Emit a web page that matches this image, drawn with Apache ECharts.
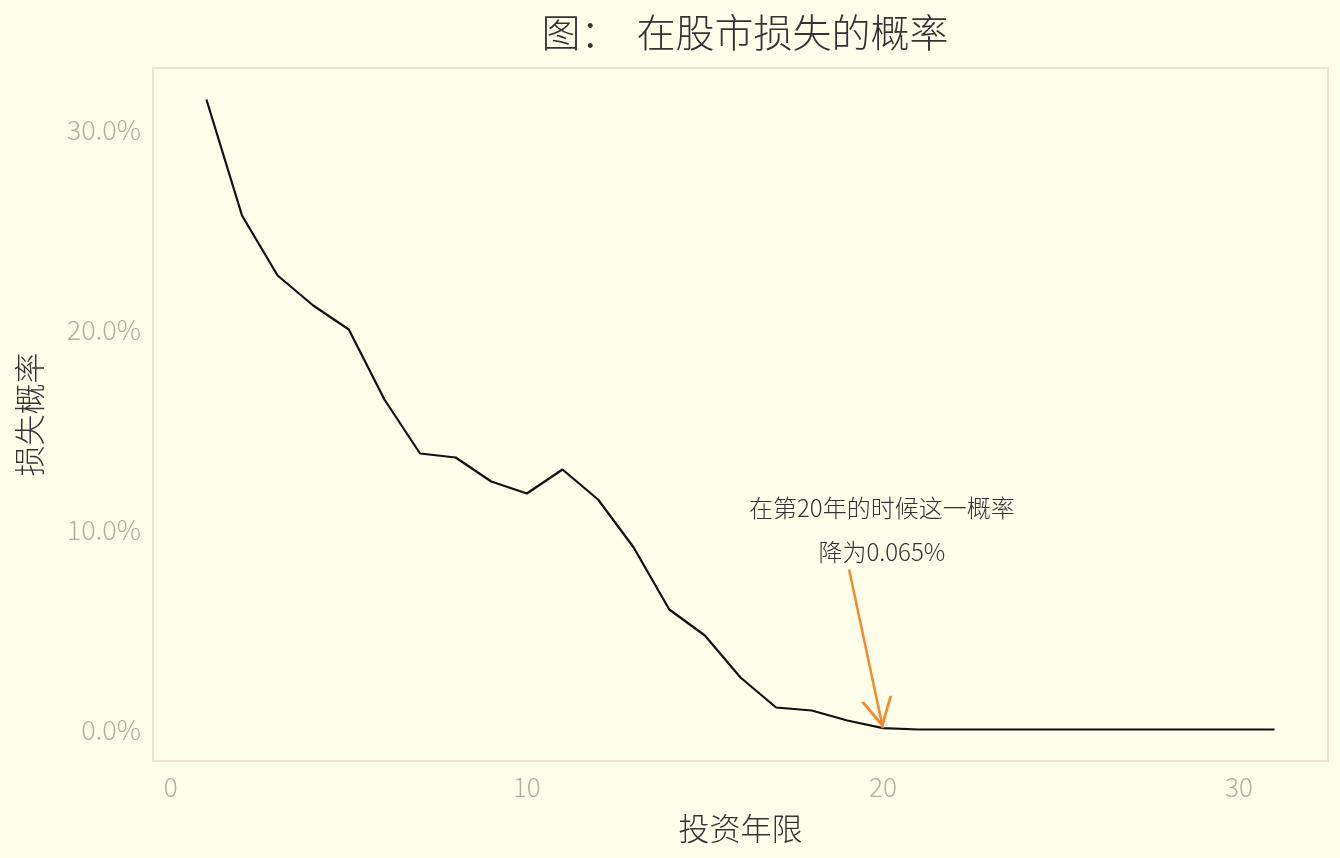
<!DOCTYPE html>
<html>
<head>
<meta charset="utf-8">
<script src="https://cdn.jsdelivr.net/npm/echarts@6/dist/echarts.min.js"></script>
<style>
  html, body { margin: 0; padding: 0; background: #fffeeb; }
  #chart { width: 1340px; height: 858px; }
</style>
</head>
<body>
<div id="chart"></div>
<script>
// investment horizon in years
const years = [1, 2, 3, 4, 5, 6, 7, 8, 9, 10, 11, 12, 13, 14, 15, 16,
  17, 18, 19, 20, 21, 22, 23, 24, 25, 26, 27, 28, 29, 30, 31];
// probability of a loss (fraction)
const lossProb = [0.315, 0.257, 0.227, 0.212, 0.200, 0.165, 0.138, 0.136,
  0.124, 0.118, 0.130, 0.115, 0.091, 0.060, 0.047, 0.026, 0.011, 0.0095,
  0.0045, 0.00065, 0, 0, 0, 0, 0, 0, 0, 0, 0, 0, 0];
const xTicks = [0, 10, 20, 30];
const yTicks = [0, 0.1, 0.2, 0.3];

// annotation: arrow from text down to year 20
const arrowFrom = [19.05, 0.08];
const arrowTo = [20, 0.00065];
const noteAt = [19.97, 0.1];

const font = '"Noto Sans CJK SC", sans-serif';
// open chevron, tip in the middle of the box so it lands on the end point
const chevron = "path://M10,0 L10.01,0 Z M10,20 L20,40 L18,40 L10,24 L2,40 L0,40 Z";

const chart = echarts.init(document.getElementById("chart"));

chart.setOption({
  backgroundColor: "#fffeeb",
  animation: false,
  title: {
    text: "图：  在股市损失的概率",
    left: 740,
    textAlign: "center",
    top: 8,
    textStyle: { fontFamily: font, fontSize: 39, fontWeight: 300, color: "#333" },
  },
  grid: {
    left: 153,
    right: 12,
    top: 68,
    bottom: 97,
    show: true,
    borderColor: "#eee3cc",
    borderWidth: 2,
    backgroundColor: "transparent",
  },
  xAxis: {
    type: "value",
    min: -0.5,
    max: 32.5,
    name: "投资年限",
    nameLocation: "middle",
    nameGap: 52,
    nameTextStyle: { fontFamily: font, fontSize: 31, fontWeight: 300, color: "#333" },
    axisLine: { show: false },
    axisTick: { show: false },
    splitLine: { show: false },
    axisLabel: {
      customValues: xTicks,
      margin: 13,
      fontFamily: font,
      fontSize: 26,
      fontWeight: 300,
      color: "#b5ad9f",
    },
  },
  yAxis: {
    type: "value",
    min: -0.01575,
    max: 0.33075,
    name: "损失概率",
    nameLocation: "middle",
    nameGap: 108,
    nameRotate: 90,
    nameTextStyle: { fontFamily: font, fontSize: 31, fontWeight: 300, color: "#333" },
    axisLine: { show: false },
    axisTick: { show: false },
    splitLine: { show: false },
    axisLabel: {
      customValues: yTicks,
      margin: 12,
      fontFamily: font,
      fontSize: 27,
      fontWeight: 300,
      color: "#b5ad9f",
      formatter: (v) => (v * 100).toFixed(1) + "%",
    },
  },
  series: [
    {
      type: "line",
      data: years.map((y, i) => [y, lossProb[i]]),
      showSymbol: false,
      lineStyle: { color: "#111", width: 2.2 },
      markLine: {
        silent: true,
        symbol: ["none", chevron],
        symbolSize: [32, 60],
        lineStyle: { color: "#f58a2e", width: 2.5, type: "solid" },
        itemStyle: { color: "#f58a2e" },
        label: { show: false },
        data: [[{ coord: arrowFrom }, { coord: arrowTo }]],
      },
      markPoint: {
        silent: true,
        symbol: "circle",
        symbolSize: 2,
        itemStyle: { color: "transparent" },
        data: [{ coord: noteAt }],
        label: {
          show: true,
          position: "inside",
          formatter: "在第20年的时候这一概率\n降为0.065%",
          fontFamily: font,
          fontSize: 24,
          fontWeight: 300,
          lineHeight: 44,
          color: "#333",
          align: "center",
        },
      },
    },
  ],
});
</script>
</body>
</html>
